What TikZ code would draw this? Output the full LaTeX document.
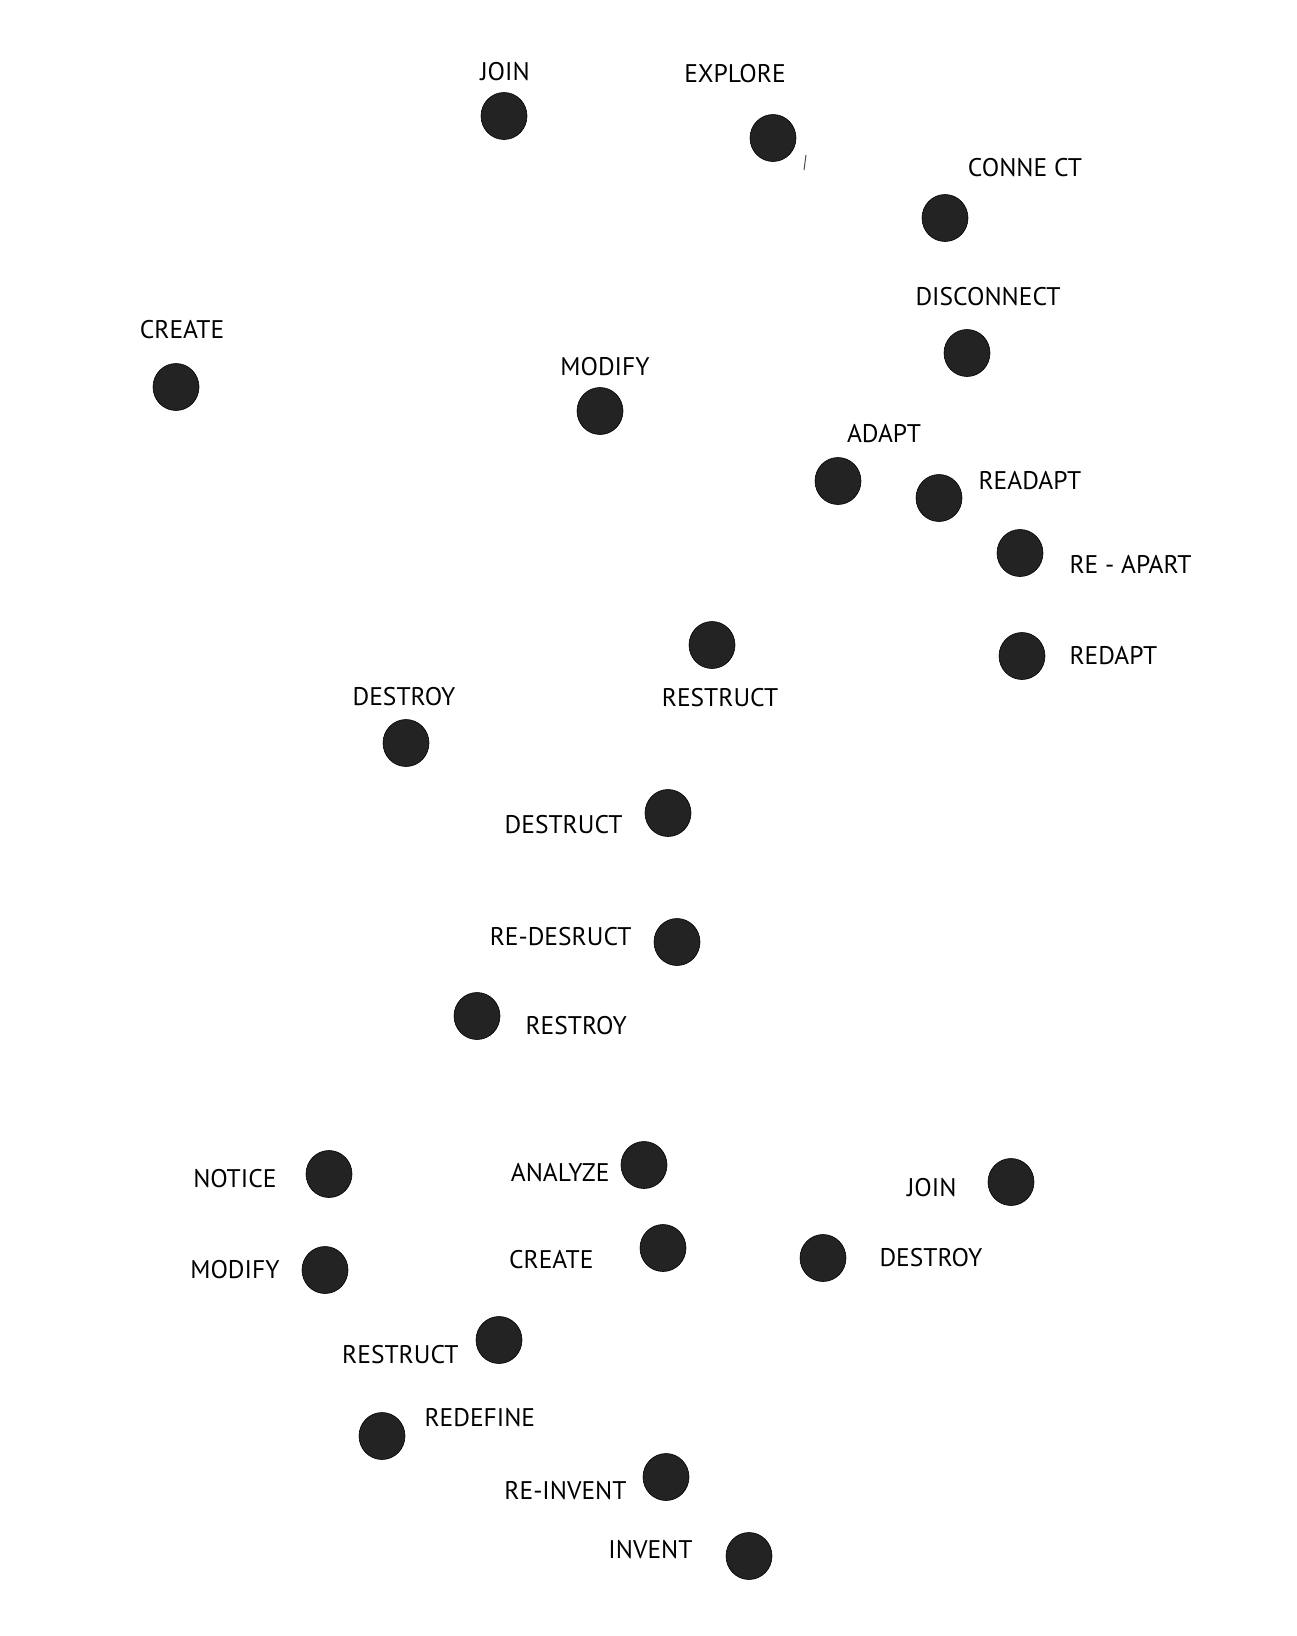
\documentclass[tikz,border=0pt]{standalone}
\usepackage{fontspec}
\newfontfamily\wordfont{PT Sans}
\usetikzlibrary{shapes.geometric, positioning}
\usepackage{xcolor}
\definecolor{blobgray}{HTML}{232323}

\begin{document}
\begin{tikzpicture}[
        x=1pt, y=-1pt,
        node distance=20pt,
        blob/.style={ellipse, draw=black, fill=blobgray, line width=0.6pt, minimum width=46pt, minimum height=47pt, inner sep=0pt},
        word/.style={inner sep=0pt, text height=17.5pt, text depth=0pt, font=\wordfont\fontsize{25.5}{26}\selectfont},
        stray/.style={black!70, line width=1pt}
    ]
        \useasboundingbox (0,0) rectangle (1296,1636);

        % upper cluster
        \node [blob] (join1) at (504,116) {};
        \node [word, above=12pt of join1, xshift=1pt] (join1-t) {JOIN};
        \node [blob] (explore) at (773,138) {};
        \node [word, above=32pt of explore, xshift=-38pt] (explore-t) {EXPLORE};
        \node [blob] (connect) at (945,218) {};
        \node [word, above=18pt of connect, xshift=80pt] (connect-t) {CONNE CT};
        \node [blob] (disconnect) at (967,353) {};
        \node [word, above=24pt of disconnect, xshift=21pt] (disconnect-t) {DISCONNECT};
        \node [blob] (create1) at (176,387) {};
        \node [word, above=25pt of create1, xshift=6pt] (create1-t) {CREATE};
        \node [blob] (modify1) at (600,411) {};
        \node [word, above=12pt of modify1, xshift=5pt] (modify1-t) {MODIFY};
        \node [blob] (adapt) at (838,481) {};
        \node [word, above=15pt of adapt, xshift=46pt] (adapt-t) {ADAPT};
        \node [blob] (readapt) at (939,498) {};
        \node [word, right=16pt of readapt, yshift=17pt] (readapt-t) {READAPT};
        \node [blob] (reapart) at (1020,553) {};
        \node [word, right=26pt of reapart, yshift=-12pt] (reapart-t) {RE - APART};
        \node [blob] (redapt) at (1022,656) {};
        \node [word, right=24pt of redapt] (redapt-t) {REDAPT};

        % middle cluster
        \node [blob] (restruct1) at (712,645) {};
        \node [word, below=20pt of restruct1, xshift=8pt] (restruct1-t) {RESTRUCT};
        \node [blob] (destroy1) at (406,743) {};
        \node [word, above=14pt of destroy1, xshift=-2pt] (destroy1-t) {DESTROY};
        \node [blob] (destruct) at (668,813) {};
        \node [word, left=22pt of destruct, yshift=-12pt] (destruct-t) {DESTRUCT};
        \node [blob] (redesruct) at (677,942) {};
        \node [word, left=22pt of redesruct, yshift=5pt] (redesruct-t) {RE-DESRUCT};
        \node [blob] (restroy) at (477,1016) {};
        \node [word, right=25pt of restroy, yshift=-10pt] (restroy-t) {RESTROY};

        % lower cluster
        \node [blob] (notice) at (329,1174) {};
        \node [word, left=29pt of notice, yshift=-5pt] (notice-t) {NOTICE};
        \node [blob] (analyze) at (644,1165) {};
        \node [word, left=11pt of analyze, yshift=-8pt] (analyze-t) {ANALYZE};
        \node [blob] (join2) at (1011,1182) {};
        \node [word, left=31pt of join2, yshift=-6pt] (join2-t) {JOIN};
        \node [blob] (modify2) at (325,1270) {};
        \node [word, left=22pt of modify2] (modify2-t) {MODIFY};
        \node [blob] (create2) at (663,1248) {};
        \node [word, left=46pt of create2, yshift=-12pt] (create2-t) {CREATE};
        \node [blob] (destroy2) at (823,1258) {};
        \node [word, right=33pt of destroy2] (destroy2-t) {DESTROY};
        \node [blob] (restruct2) at (499,1340) {};
        \node [word, left=17pt of restruct2, yshift=-15pt] (restruct2-t) {RESTRUCT};
        \node [blob] (redefine) at (382,1436) {};
        \node [word, right=19pt of redefine, yshift=18pt] (redefine-t) {REDEFINE};
        \node [blob] (reinvent) at (666,1477) {};
        \node [word, left=16pt of reinvent, yshift=-14pt] (reinvent-t) {RE-INVENT};
        \node [blob] (invent) at (749,1556) {};
        \node [word, left=33pt of invent, yshift=6pt] (invent-t) {INVENT};

        % stray pen mark
        \draw [stray] (806,155) -- (804,170);
    \end{tikzpicture}
\end{document}
